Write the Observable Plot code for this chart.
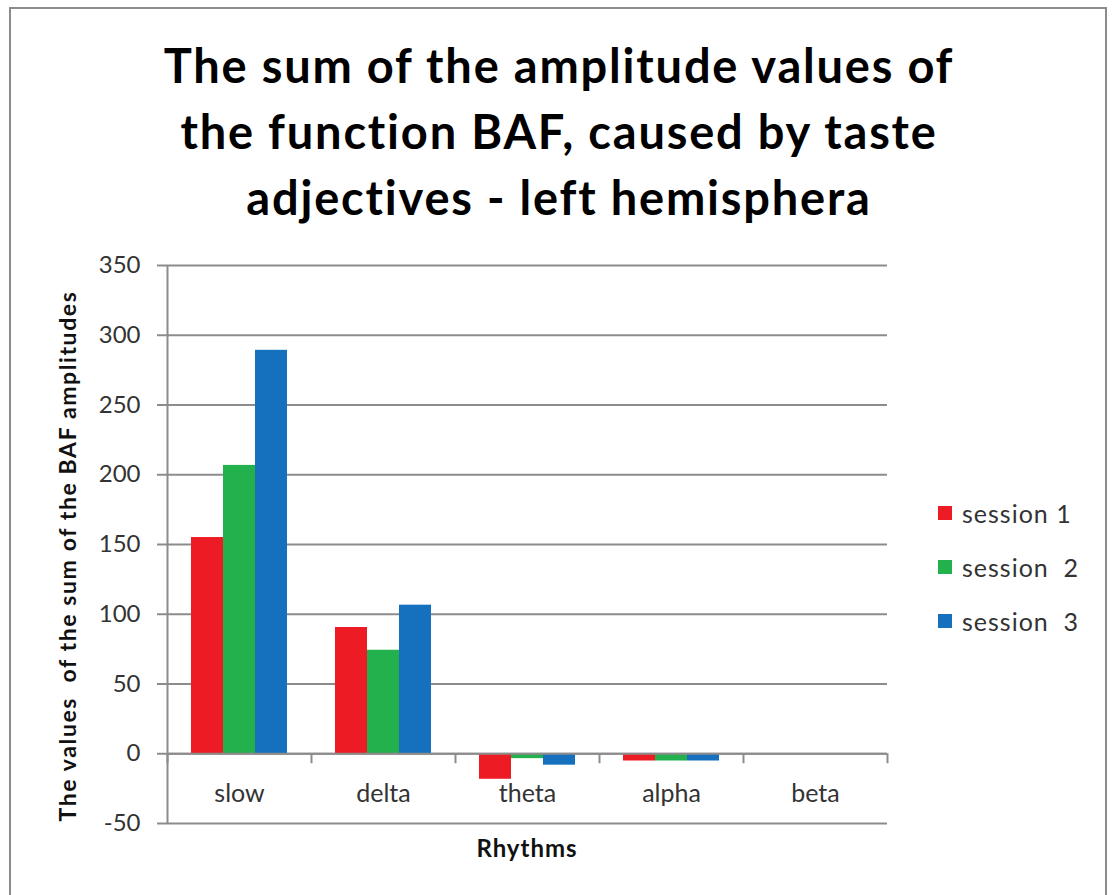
<!DOCTYPE html>
<html>
<head>
<meta charset="utf-8">
<script src="https://cdn.jsdelivr.net/npm/d3@7"></script>
<script src="https://cdn.jsdelivr.net/npm/@observablehq/plot@0.6"></script>
<style>
  html, body { margin: 0; padding: 0; background: #fff; }
  #wrap { position: relative; width: 1114px; height: 895px; overflow: hidden; background: #fff; font-family: Lato, "Open Sans", sans-serif; }
  #border { position: absolute; left: 9px; top: 7px; width: 1098px; height: 900px; border: 2px solid #8c8c8c; box-sizing: border-box; }
  #title { position: absolute; left: 0; top: 32px; width: 1114px; text-align: center; font-weight: 700; font-size: 47px; letter-spacing: 1.8px; line-height: 66px; color: #000; padding-left: 4px; box-sizing: border-box; }
  #chart { position: absolute; left: 0; top: 240px; }
  #ylabel { position: absolute; left: 67px; top: 556px; transform: translate(-50%, -50%) rotate(-90deg); white-space: nowrap; font-weight: 700; font-size: 23px; letter-spacing: 1.6px; color: #111; }
  #xlabel { position: absolute; left: 527px; top: 847px; transform: translate(-50%, -50%); font-weight: 700; font-size: 24px; letter-spacing: 1px; color: #111; }
  #legend { position: absolute; left: 938px; top: 486px; }
  .item { display: flex; align-items: center; height: 54px; font-size: 25px; letter-spacing: 1px; color: #333; white-space: pre; }
  .sw { width: 14px; height: 14px; margin-right: 10px; }
</style>
</head>
<body>
<div id="wrap">
  <div id="border"></div>
  <div id="title">The sum of the amplitude values of<br>the function BAF, caused by taste<br>adjectives - left hemisphera</div>
  <div id="chart"></div>
  <div id="ylabel">The values &nbsp;of the sum of the BAF amplitudes</div>
  <div id="xlabel">Rhythms</div>
  <div id="legend"></div>
</div>
<script>
const categories = ["slow", "delta", "theta", "alpha", "beta"];
const sessions = ["session 1", "session 2", "session 3"];
const sessionLabels = ["session 1", "session  2", "session  3"];
const session1 = [155, 90.5, -18.3, -5.2, 0];
const session2 = [206.7, 74.2, -3.5, -5.2, 0];
const session3 = [289.2, 106.5, -8.2, -5.2, 0];
const yTicks = [-50, 0, 50, 100, 150, 200, 250, 300, 350];
const colors = ["#ED1C24", "#22B14C", "#1570BE"];

const series = [session1, session2, session3];
const rows = [];
categories.forEach((c, i) => sessions.forEach((s, k) => rows.push({rhythm: c, session: s, value: series[k][i]})));
const catRows = categories.map(c => ({rhythm: c, session: sessions[0], zero: 0}));
const firstRow = [{rhythm: categories[0], session: sessions[0], lo: yTicks[0], hi: yTicks[yTicks.length - 1]}];
const lastRow = [{rhythm: categories[categories.length - 1], session: sessions[2], zero: 0}];

const gray = "#8c8c8c";
const padOuter = 0.74;
const edgeOffset = 40; // half a bar + outer padding, in pixels

const chart = Plot.plot({
  width: 1114,
  height: 655,
  marginTop: 25,
  marginBottom: 72,
  marginLeft: 165,
  marginRight: 225,
  style: {fontFamily: "Lato, 'Open Sans', sans-serif", background: "transparent"},
  fx: {domain: categories, padding: 0, axis: null},
  x: {domain: sessions, paddingInner: 0, paddingOuter: padOuter, axis: null},
  y: {domain: [-50, 350], axis: null},
  color: {domain: sessions, range: colors},
  marks: [
    Plot.ruleY(yTicks, {stroke: gray, strokeWidth: 2}),
    Plot.axisY(yTicks, {anchor: "left", tickSize: 10, tickPadding: 17, stroke: gray, strokeWidth: 2, fill: "#333", fontSize: 24, letterSpacing: 1, tickFormat: d => String(d)}),
    Plot.barY(rows, {fx: "rhythm", x: "session", y: "value", fill: "session"}),
    Plot.ruleX(firstRow, {fx: "rhythm", x: "session", y1: "lo", y2: "hi", dx: -edgeOffset, stroke: gray, strokeWidth: 2}),
    Plot.ruleX(catRows, {fx: "rhythm", x: "session", y1: "zero", y2: "zero", insetBottom: -10, dx: -edgeOffset, stroke: gray, strokeWidth: 2}),
    Plot.ruleX(lastRow, {fx: "rhythm", x: "session", y1: "zero", y2: "zero", insetBottom: -10, dx: edgeOffset, stroke: gray, strokeWidth: 2}),
    Plot.ruleY([0], {stroke: gray, strokeWidth: 2}),
    Plot.text(catRows, {fx: "rhythm", y: "zero", text: "rhythm", dy: 40, fontSize: 25, letterSpacing: 1.5, fill: "#333"})
  ]
});
document.getElementById("chart").appendChild(chart);

const legend = document.getElementById("legend");
sessions.forEach((s, k) => {
  const item = document.createElement("div");
  item.className = "item";
  item.innerHTML = `<div class="sw" style="background:${colors[k]}"></div><span>${sessionLabels[k]}</span>`;
  legend.appendChild(item);
});
</script>
</body>
</html>
